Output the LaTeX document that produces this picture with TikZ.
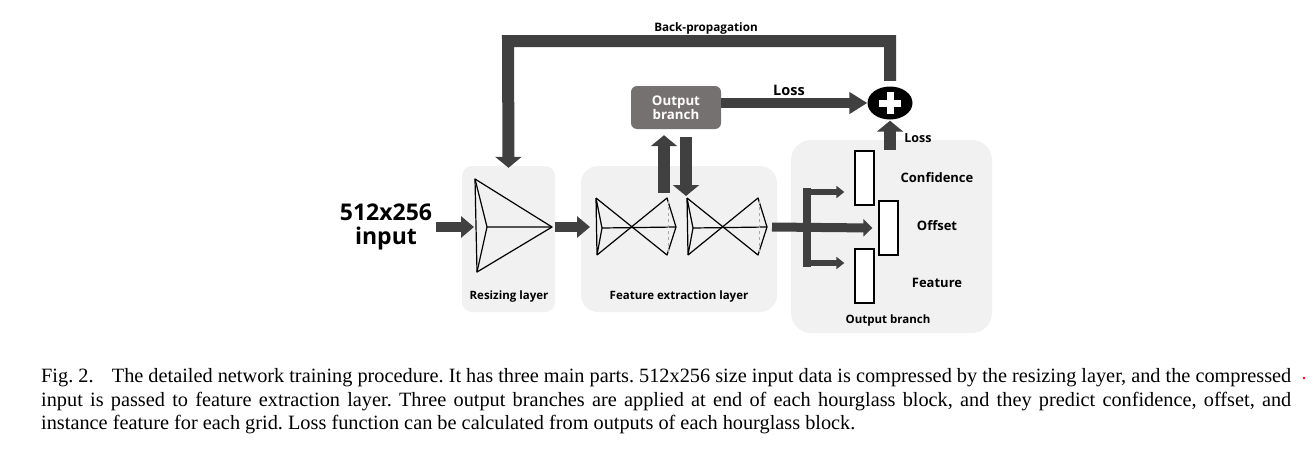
\documentclass[tikz,border=0pt]{standalone}
\usepackage{fontspec}
\usepackage{tikz}
\usetikzlibrary{arrows.meta,shapes.geometric}
\newfontfamily\dgfont{Open Sans}
\newfontfamily\capfont{Liberation Serif}
\definecolor{arrowgray}{RGB}{64,64,64}
\definecolor{boxgray}{RGB}{241,241,241}
\definecolor{branchgray}{RGB}{118,113,113}
\tikzset{
  layerbox/.style={fill=boxgray, draw=none, inner sep=0pt},
  lbl/.style={font=\dgfont\bfseries\fontsize{11.5}{13}\selectfont, inner sep=0pt},
  tag/.style={font=\dgfont\bfseries\fontsize{13}{15}\selectfont, inner sep=0pt},
  fatarrow/.style={draw=arrowgray, line width=12pt, -{Triangle[length=11pt,width=26pt]}},
  midarrow/.style={draw=arrowgray, line width=10pt, -{Triangle[length=13pt,width=21pt]}},
  thinarrow/.style={draw=arrowgray, line width=6pt, -{Triangle[length=8pt,width=12pt]}},
  wire/.style={line width=1.2pt, line join=round},
  slot/.style={draw, fill=white, line width=1.3pt, minimum width=19pt, minimum height=54pt, inner sep=0pt}
}

\begin{document}
\begin{tikzpicture}[x=1pt,y=-1pt]
  \useasboundingbox (0,0) rectangle (1313,474);
  % layers
  \node[layerbox, rounded corners=10pt, minimum width=93pt, minimum height=146pt] (rsz) at (508.5,239) {};
  \node[layerbox, rounded corners=17pt, minimum width=196pt, minimum height=146pt] (fext) at (679,239) {};
  \node[layerbox, rounded corners=20pt, minimum width=201pt, minimum height=193pt] (obox) at (891.5,236.5) {};
  \node[lbl] (rszlbl) at (509,297) {Resizing layer};
  \node[lbl] (fextlbl) at (679,297) {Feature extraction layer};
  \node[lbl] (oboxlbl) at (888,321) {Output branch};

  \node[font=\dgfont\bfseries\fontsize{23}{24.5}\selectfont, align=center, inner sep=0pt] (inp) at (386,227) {512x256\\input};

  % resizing layer
  \coordinate (rszT) at (475,179);
  \coordinate (rszB) at (477,272);
  \coordinate (rszL) at (487,227);
  \coordinate (rszR) at (552,227);
  \draw[wire] (rszT) -- (rszR) -- (rszB) -- cycle;
  \draw[wire] (rszT) -- (rszL) -- (rszB) (rszL) -- (rszR);

  % hourglass blocks
  \foreach \hx/\name in {596/hgA,687/hgB}
  {
    \draw[wire] (\hx,198) -- (\hx+1,255) (\hx,198) -- (\hx+6,228) -- (\hx+1,255);
    \draw[wire] (\hx,198) -- (\hx+71,255) -- (\hx+80,227) -- (\hx+71,198) -- (\hx+1,255);
    \draw[wire] (\hx+6,228) -- (\hx+80,227);
    \draw[gray!70, dashed, line width=1pt] (\hx+72,201) -- (\hx+72,252);
    \coordinate (\name-w) at (\hx,227);
    \coordinate (\name-e) at (\hx+80,227);
  }

  \node[fill=branchgray, rounded corners=6pt, minimum width=90pt, minimum height=43pt, text=white, font=\dgfont\bfseries\fontsize{13.3}{13.5}\selectfont, align=center, inner sep=0pt] (outbr) at (676,107.5) {Output\\branch};
  \node[ellipse, fill=black, minimum width=45pt, minimum height=33pt, inner sep=0pt] (sum) at (890,103) {};
  \draw[white, line width=7pt] ([xshift=-11pt]sum.center) -- ([xshift=11pt]sum.center) ([yshift=-11pt]sum.center) -- ([yshift=11pt]sum.center);

  \node[slot] (conf) at (864.5,178) {};
  \node[slot] (offs) at (888.5,228) {};
  \node[slot] (feat) at (864.5,276) {};
  \node[tag] (conflbl) at (937,178) {Confidence};
  \node[tag] (offslbl) at (937,226) {Offset};
  \node[tag] (featlbl) at (937,283) {Feature};

  % arrows
  \draw[midarrow] ([xshift=4pt]inp.east |- rszL) -- ([xshift=-13pt]rszL);
  \draw[midarrow] ([xshift=3pt]rszR) -- ([xshift=-6pt]hgA-w);
  \coordinate (upfoot) at (664,193);
  \coordinate (dnhead) at (686,196);
  \draw[fatarrow, shorten >=6pt] (upfoot) -- (upfoot |- outbr.south);
  \draw[fatarrow, shorten <=8pt] (dnhead |- outbr.south) -- (dnhead);

  \draw[midarrow, -{Triangle[length=18pt,width=21pt]}] (outbr.east |- sum.west) -- (sum.west);
  \node[tag, font=\dgfont\bfseries\fontsize{14.5}{16}\selectfont] (loss1) at (789,90) {Loss};
  \draw[fatarrow, shorten >=1pt] (sum.south |- conf.north) -- (sum.south);
  \node[tag, font=\dgfont\bfseries\fontsize{12.5}{14}\selectfont] (loss2) at (918,138) {Loss};

  % back-propagation
  \coordinate (bpturn) at (508,41);
  \draw[fatarrow, line join=miter] ([yshift=5.5pt]sum.north) |- (bpturn) -- ([yshift=-2pt]rsz.north);
  \node[lbl, font=\dgfont\bfseries\fontsize{11.7}{13}\selectfont] (bplbl) at (706,28) {Back-propagation};

  % split into the three outputs
  \coordinate (splitT) at (807,192);
  \coordinate (splitB) at (807,263);
  \draw[draw=arrowgray, line width=9pt, -{Triangle[length=9pt,width=17pt]}] ([xshift=5pt]hgB-e) -- ([xshift=-6pt]offs.west);
  \draw[draw=arrowgray, line width=8pt] ([yshift=4pt]splitT) -- ([yshift=-4pt]splitB);
  \draw[thinarrow] (splitT) -- ([xshift=-10pt]conf.west |- splitT);
  \draw[thinarrow] (splitB) -- ([xshift=-10pt]feat.west |- splitB);

  \node[anchor=north west, text width=1250pt, align=justify, inner sep=0pt, font=\capfont\frenchspacing\fontsize{20.3}{23.5}\selectfont] (caption) at (41,368.5) {Fig.~2.\hspace{0.9em}The detailed network training procedure. It has three main parts. 512x256 size input data is compressed by the resizing layer, and the compressed\linebreak input is passed to feature extraction layer. Three output branches are applied at end of each hourglass block, and they predict confidence, offset, and\linebreak instance feature for each grid. Loss function can be calculated from outputs of each hourglass block.};
  \fill[red] (1304,378) circle (1.3pt);
\end{tikzpicture}
\end{document}
